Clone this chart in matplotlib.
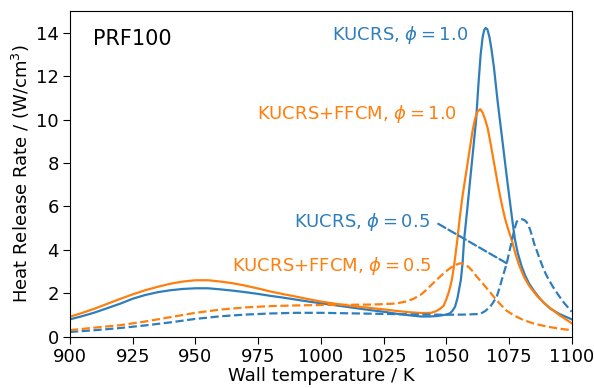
import matplotlib
matplotlib.use("Agg")
import matplotlib.pyplot as plt

# Wall temperature (K) and heat release rate (W/cm^3) for each mechanism / equivalence ratio
T_kucrs_10 = [900, 905, 910, 915, 920, 925, 930, 935, 940, 945, 950, 955, 960, 965, 970,
              975, 980, 985, 990, 995, 1000, 1005, 1010, 1015, 1020, 1025, 1030, 1035, 1040,
              1043, 1046, 1048, 1050, 1051.5, 1052.5, 1053.5, 1054.5, 1055.8, 1056.5, 1057.1,
              1058.3, 1059.5, 1060.7, 1061.9, 1062.8, 1063.7, 1064.5, 1065.1, 1065.7, 1066.4,
              1067.2, 1068, 1069, 1070.4, 1071.5, 1072.5, 1073.5, 1074.5, 1075.5, 1076.5,
              1077.4, 1078.5, 1080, 1081.5, 1083, 1085, 1087, 1089, 1091.4, 1095, 1100]
Q_kucrs_10 = [0.80, 0.95, 1.12, 1.32, 1.52, 1.75, 1.92, 2.05, 2.14, 2.20, 2.23, 2.23, 2.18,
              2.12, 2.05, 1.97, 1.88, 1.80, 1.71, 1.62, 1.54, 1.46, 1.38, 1.30, 1.22, 1.15,
              1.06, 0.99, 0.93, 0.93, 0.95, 0.98, 1.02, 1.08, 1.20, 1.38, 1.80, 2.61, 3.40,
              4.46, 5.80, 7.21, 8.60, 10.00, 11.60, 13.00, 13.80, 14.12, 14.22, 14.15,
              13.80, 13.25, 12.40, 10.90, 9.85, 8.90, 7.95, 7.00, 6.10, 5.20,
              4.46, 3.85, 3.25, 2.80, 2.45, 2.10, 1.80, 1.55, 1.30, 1.05, 0.80]

T_ffcm_10 = [900, 905, 910, 915, 920, 925, 930, 935, 940, 945, 950, 955, 960, 965, 970, 975,
             980, 985, 990, 995, 1000, 1005, 1010, 1015, 1020, 1025, 1030, 1035, 1040, 1044,
             1046, 1047.5, 1048.9, 1050, 1051, 1052.2, 1053.3, 1054.4, 1055.5, 1056.5, 1057.5,
             1058.5, 1059.5, 1060.5, 1061.5, 1062.5, 1063.5, 1064.5, 1065.5, 1066.5, 1067.5,
             1068.5, 1069.5, 1070.5, 1071.5, 1072.5, 1073.5, 1074.8, 1076.1, 1077.5, 1079,
             1081, 1083, 1086, 1089, 1091.4, 1095, 1100]
Q_ffcm_10 = [0.92, 1.10, 1.30, 1.52, 1.74, 1.95, 2.14, 2.30, 2.44, 2.54, 2.60, 2.60, 2.54,
             2.46, 2.35, 2.22, 2.08, 1.96, 1.85, 1.73, 1.62, 1.53, 1.45, 1.38, 1.32, 1.26,
             1.19, 1.13, 1.09, 1.10, 1.18, 1.28, 1.42, 1.72, 2.05, 2.60, 3.45, 4.46, 5.60,
             6.50, 7.25, 8.00, 8.75, 9.50, 10.05, 10.38, 10.48, 10.32, 10.00, 9.60, 9.00,
             8.35, 7.70, 7.05, 6.45, 5.90, 5.40, 4.90, 4.45, 3.85, 3.30,
             2.75, 2.35, 1.90, 1.55, 1.32, 1.00, 0.62]

T_kucrs_05 = [900, 910, 920, 930, 940, 950, 960, 970, 980, 990, 1000, 1010, 1020, 1030,
              1040, 1050, 1058, 1063.5, 1065.5, 1067.5, 1068.8, 1070.1, 1071.1, 1072.1,
              1073.1, 1074.1, 1075, 1076, 1076.8, 1077.5, 1078.1, 1079, 1080.1, 1081, 1082,
              1082.7, 1083.5, 1084.3, 1085, 1086.1, 1087.5, 1089, 1090.5, 1092.5, 1094.5,
              1097, 1100]
Q_kucrs_05 = [0.22, 0.30, 0.40, 0.52, 0.66, 0.82, 0.94, 1.02, 1.07, 1.10, 1.10, 1.08, 1.06,
              1.04, 1.02, 1.01, 1.02, 1.05, 1.18, 1.38, 1.60, 1.84, 2.20, 2.61,
              3.00, 3.38, 3.85, 4.35, 4.76, 5.08, 5.30, 5.38, 5.41, 5.38, 5.28,
              5.15, 4.90, 4.60, 4.30, 3.95, 3.50, 3.05, 2.70, 2.30, 1.95,
              1.55, 1.15]

T_ffcm_05 = [900, 910, 920, 930, 940, 950, 960, 970, 980, 990, 1000, 1010, 1020, 1025, 1030,
             1034, 1037, 1040, 1042, 1044, 1046, 1048, 1050, 1052, 1054, 1055.5, 1056.5,
             1057.5, 1059, 1060.5, 1062.2, 1064.5, 1067.5, 1069.5, 1071.5, 1074, 1077,
             1080.7, 1085, 1090, 1095, 1100]
Q_ffcm_05 = [0.30, 0.42, 0.53, 0.70, 0.90, 1.10, 1.25, 1.35, 1.41, 1.44, 1.46, 1.47, 1.48,
             1.50, 1.53, 1.62, 1.75, 1.95, 2.15, 2.38, 2.60, 2.82, 3.02, 3.20, 3.32, 3.38,
             3.37, 3.33, 3.20, 3.02, 2.76, 2.45, 2.05, 1.75, 1.50, 1.20, 0.98,
             0.77, 0.60, 0.47, 0.37, 0.30]

# Leader line from the "KUCRS, phi = 0.5" label to its curve
leader_start = (1046.8, 5.2)
leader_end = (1074.1, 3.38)

x_ticks = [900, 925, 950, 975, 1000, 1025, 1050, 1075, 1100]
y_ticks = [0, 2, 4, 6, 8, 10, 12, 14]

blue = "#2f7ebc"
orange = "#ff7f0e"

plt.rcParams["font.family"] = ["DejaVu Sans"]
fig = plt.figure(figsize=(5.94, 3.88), dpi=100)
ax = fig.add_axes([0.1178, 0.1322, 0.8447, 0.8394])

lw = 1.6
ax.plot(T_kucrs_10, Q_kucrs_10, color=blue, lw=lw)
ax.plot(T_ffcm_10, Q_ffcm_10, color=orange, lw=lw)
ax.plot(T_kucrs_05, Q_kucrs_05, color=blue, lw=lw, ls="--")
ax.plot(T_ffcm_05, Q_ffcm_05, color=orange, lw=lw, ls="--")
ax.annotate("", xy=leader_end, xytext=leader_start,
            arrowprops=dict(arrowstyle="-", color=blue, lw=lw, ls="--",
                            shrinkA=0, shrinkB=0))

fs = 13
ax.text(0.045, 0.915, "PRF100", transform=ax.transAxes, fontsize=15,
        ha="left", va="center")
ax.text(1058.7, 13.9, r"KUCRS, $\phi = 1.0$", color=blue, fontsize=fs,
        ha="right", va="center")
ax.text(1054.3, 10.25, r"KUCRS+FFCM, $\phi = 1.0$", color=orange, fontsize=fs,
        ha="right", va="center")
ax.text(1043.5, 5.3, r"KUCRS, $\phi = 0.5$", color=blue, fontsize=fs,
        ha="right", va="center")
ax.text(1044.3, 3.25, r"KUCRS+FFCM, $\phi = 0.5$", color=orange, fontsize=fs,
        ha="right", va="center")

ax.set_xlim(900, 1100)
ax.set_ylim(0, 15)
ax.set_xticks(x_ticks)
ax.set_yticks(y_ticks)
ax.tick_params(labelsize=fs, length=5, pad=3)
ax.set_xlabel("Wall temperature / K", fontsize=fs, labelpad=1)
ax.set_ylabel(r"Heat Release Rate / (W/cm$^3$)", fontsize=fs, labelpad=3)

fig.savefig("out.png", dpi=100)
